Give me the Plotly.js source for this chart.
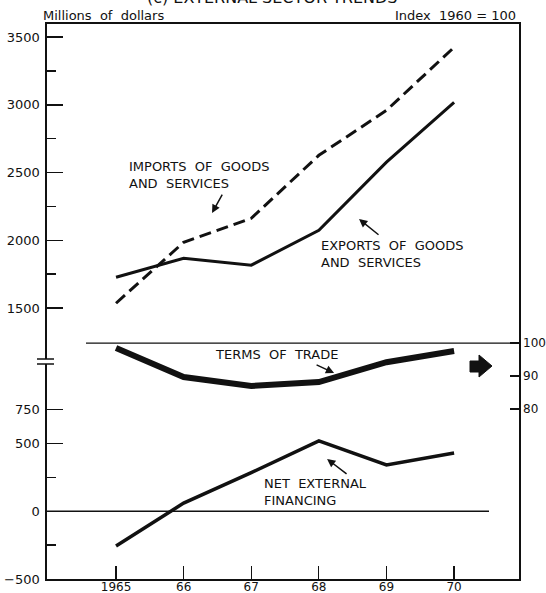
<!DOCTYPE html>
<html>
<head>
<meta charset="utf-8">
<script src="https://cdn.plot.ly/plotly-3.0.1.min.js"></script>
<style>html,body{margin:0;padding:0;background:#fff;}#chart{width:546px;height:593px;}</style>
</head>
<body>
<div id="chart"></div>
<script>
// ---- data ----
const years = [1965, 1966, 1967, 1968, 1969, 1970];
const yearLabels = ['1965', '66', '67', '68', '69', '70'];
const exportsGS = [1727, 1867, 1816, 2074, 2576, 3018];      // millions of dollars
const importsGS = [1535, 1985, 2162, 2627, 2959, 3424];      // millions of dollars
const termsOfTrade = [98.5, 89.7, 87.0, 88.2, 94.2, 97.6];   // index 1960 = 100
const netExtFin = [-256, 60, 285, 519, 342, 430];            // millions of dollars
const leftTicks = [-500, 0, 500, 750, 1500, 2000, 2500, 3000, 3500];
const leftMinor = [-250, 250, 1750, 2250, 2750, 3250];
const rightTicks = [80, 90, 100];

// ---- layout geometry ----
const W = 546, H = 593, L = 47, R = 27, T = 24, B = 14;
const pw = W - L - R, ph = H - T - B;
const px = v => (v - L) / pw;          // pixel -> paper x
const py = v => (H - B - v) / ph;      // pixel -> paper y
const FONT = 'DejaVu Sans, sans-serif';
const blk = '#111';

const traces = [
  {x: years, y: exportsGS, type: 'scatter', mode: 'lines', name: 'Exports',
   line: {color: blk, width: 3}},
  {x: years, y: importsGS, type: 'scatter', mode: 'lines', name: 'Imports',
   line: {color: blk, width: 3, dash: '12px,6px'}},
  {x: years, y: termsOfTrade, type: 'scatter', mode: 'lines', name: 'Terms of trade',
   yaxis: 'y2', line: {color: blk, width: 6}},
  {x: years, y: netExtFin, type: 'scatter', mode: 'lines', name: 'Net external financing',
   line: {color: blk, width: 3.5}}
];

const tf = {family: FONT, size: 13, color: blk};
const annotations = [
  {xref: 'paper', yref: 'paper', x: px(272), y: py(-2.5), text: '(c) EXTERNAL SECTOR TRENDS',
   showarrow: false, xanchor: 'center', yanchor: 'middle', font: {family: FONT, size: 16, color: blk}},
  {xref: 'paper', yref: 'paper', x: px(41), y: py(16), text: 'Millions  of  dollars',
   showarrow: false, xanchor: 'left', yanchor: 'middle', font: {family: FONT, size: 13, color: blk}},
  {xref: 'paper', yref: 'paper', x: px(518), y: py(16), text: 'Index  1960 = 100',
   showarrow: false, xanchor: 'right', yanchor: 'middle', font: {family: FONT, size: 13, color: blk}},
  {xref: 'x', yref: 'y', x: 1965.16, y: 2478, text: 'IMPORTS  OF  GOODS<br>AND  SERVICES',
   showarrow: false, xanchor: 'left', yanchor: 'middle', align: 'left', font: tf},
  {xref: 'x', yref: 'y', x: 1968.0, y: 1895, text: 'EXPORTS  OF  GOODS<br>AND  SERVICES',
   showarrow: false, xanchor: 'left', yanchor: 'middle', align: 'left', font: tf},
  {xref: 'x', yref: 'y2', x: 1967.37, y: 96.4, text: 'TERMS  OF  TRADE',
   showarrow: false, xanchor: 'center', yanchor: 'middle', font: tf},
  {xref: 'x', yref: 'y', x: 1967.16, y: 142, text: 'NET  EXTERNAL<br>FINANCING',
   showarrow: false, xanchor: 'left', yanchor: 'middle', align: 'left', font: tf},
  // pointer arrows
  {xref: 'x', yref: 'y', x: 1966.42, y: 2201, ax: 11, ay: -20, text: '', showarrow: true,
   arrowhead: 2, arrowsize: 1.1, arrowwidth: 1.5, arrowcolor: blk},
  {xref: 'x', yref: 'y', x: 1968.594, y: 2157, ax: 21, ay: 17, text: '', showarrow: true,
   arrowhead: 2, arrowsize: 1.1, arrowwidth: 1.5, arrowcolor: blk},
  {xref: 'x', yref: 'y2', x: 1968.225, y: 90.9, ax: -19, ay: -9, text: '', showarrow: true,
   arrowhead: 2, arrowsize: 1.1, arrowwidth: 1.5, arrowcolor: blk},
  {xref: 'x', yref: 'y', x: 1968.121, y: 386, ax: 21, ay: 16, text: '', showarrow: true,
   arrowhead: 2, arrowsize: 1.1, arrowwidth: 1.5, arrowcolor: blk}
];

const blockArrow = 'M ' + px(470) + ' ' + py(361) + ' L ' + px(479) + ' ' + py(361) +
  ' L ' + px(479) + ' ' + py(355) + ' L ' + px(492) + ' ' + py(366) +
  ' L ' + px(479) + ' ' + py(377) + ' L ' + px(479) + ' ' + py(372) +
  ' L ' + px(470) + ' ' + py(372) + ' Z';

const shapes = [
  // index base line (100)
  {type: 'line', xref: 'paper', yref: 'y2', x0: px(86), x1: 1, y0: 100, y1: 100,
   line: {color: blk, width: 1.3}},
  // zero line
  {type: 'line', xref: 'paper', yref: 'y', x0: 0, x1: px(489), y0: 0, y1: 0,
   line: {color: blk, width: 1.3}},
  // axis break
  {type: 'rect', xref: 'paper', yref: 'paper', x0: px(44), x1: px(50), y0: py(364), y1: py(359),
   line: {width: 0}, fillcolor: '#fff', layer: 'above'},
  {type: 'line', xref: 'paper', yref: 'paper', x0: px(37), x1: px(54), y0: py(359), y1: py(359),
   line: {color: blk, width: 1.5}, layer: 'above'},
  {type: 'line', xref: 'paper', yref: 'paper', x0: px(37), x1: px(54), y0: py(364), y1: py(364),
   line: {color: blk, width: 1.5}, layer: 'above'},
  // black block arrow
  {type: 'path', xref: 'paper', yref: 'paper', path: blockArrow, fillcolor: blk,
   line: {color: blk, width: 1}}
];

const layout = {
  width: W, height: H,
  margin: {l: L, r: R, t: T, b: B, pad: 0},
  paper_bgcolor: '#fff', plot_bgcolor: '#fff',
  showlegend: false,
  font: {family: FONT, size: 13, color: blk},
  xaxis: {
    range: [1963.979, 1970.96], tickmode: 'array', tickvals: years, ticktext: yearLabels,
    ticks: 'inside', ticklen: 13, tickwidth: 1.2, tickcolor: blk,
    showline: true, linewidth: 1.6, linecolor: blk, mirror: true,
    showgrid: false, zeroline: false, tickfont: {family: FONT, size: 12, color: blk},
    ticklabelstandoff: -4
  },
  yaxis: {
    range: [-500, 3596], tickmode: 'array', tickvals: leftTicks,
    ticks: 'inside', ticklen: 16, tickwidth: 1.5, tickcolor: blk,
    minor: {tickmode: 'array', tickvals: leftMinor, ticks: 'inside', ticklen: 9, tickwidth: 1.3, tickcolor: blk, showgrid: false},
    showline: true, linewidth: 1.6, linecolor: blk,
    showgrid: false, zeroline: false, tickfont: {family: FONT, size: 13, color: blk},
    ticklabelstandoff: 3
  },
  yaxis2: {
    overlaying: 'y', side: 'right', range: [28.5, 196.7], tickmode: 'array', tickvals: rightTicks,
    ticks: 'inside', ticklen: 9, tickwidth: 1.3, tickcolor: blk,
    showline: true, linewidth: 1.6, linecolor: blk,
    showgrid: false, zeroline: false, tickfont: {family: FONT, size: 12, color: blk},
    ticklabelstandoff: 0
  },
  annotations: annotations,
  shapes: shapes
};

Plotly.newPlot('chart', traces, layout, {staticPlot: true, displayModeBar: false});
</script>
</body>
</html>
